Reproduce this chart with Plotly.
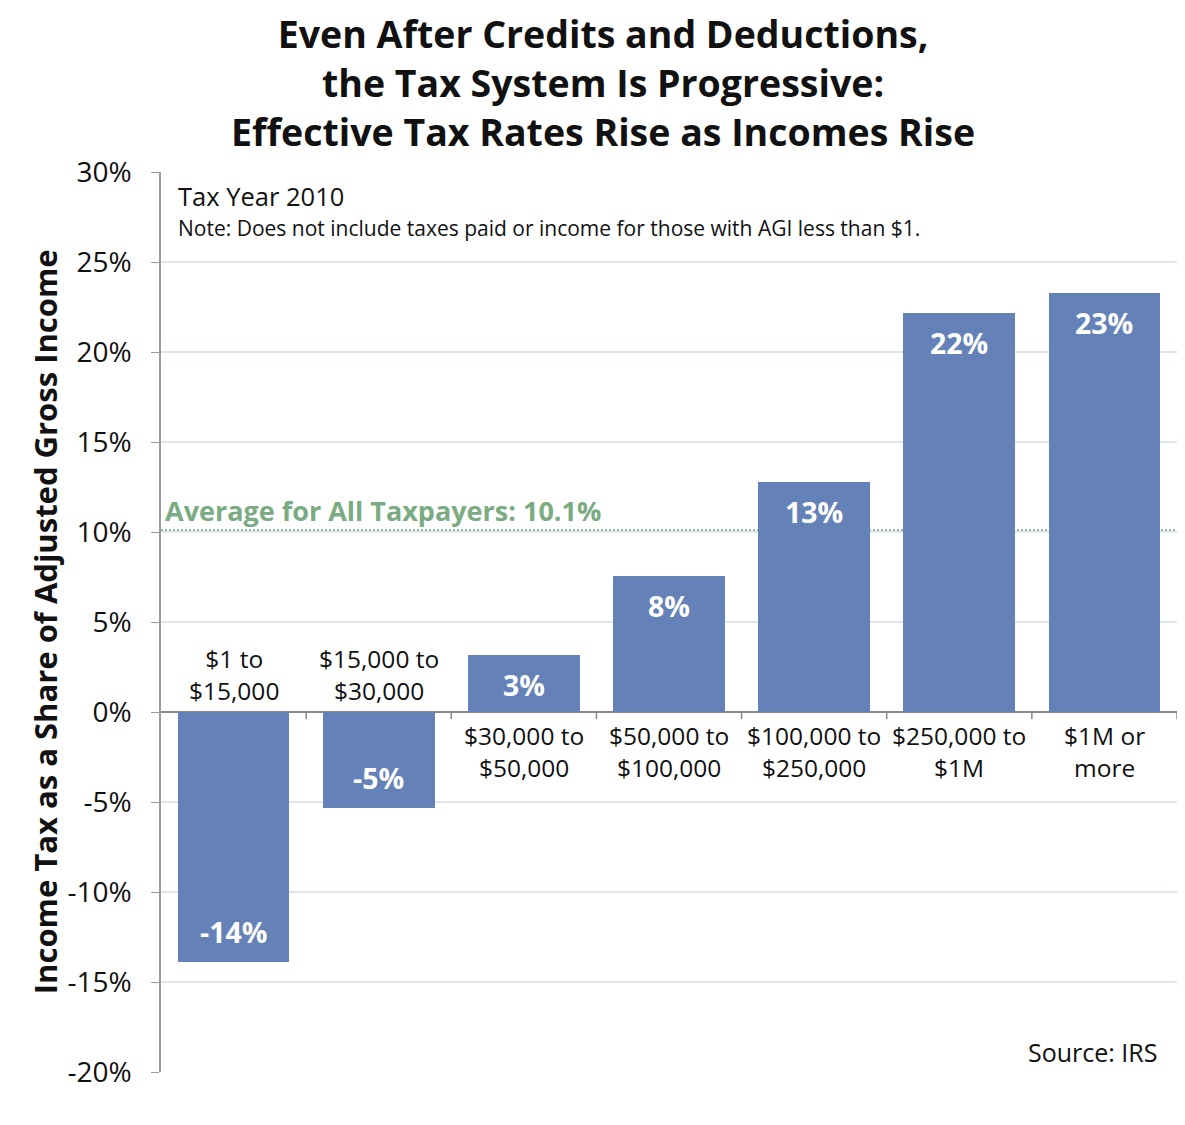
import plotly.graph_objects as go

categories = ["$1 to<br>$15,000", "$15,000 to<br>$30,000", "$30,000 to<br>$50,000",
              "$50,000 to<br>$100,000", "$100,000 to<br>$250,000", "$250,000 to<br>$1M",
              "$1M or<br>more"]
rates = [-13.9, -5.35, 3.15, 7.55, 12.8, 22.15, 23.3]
bar_labels = ["-14%", "-5%", "3%", "8%", "13%", "22%", "23%"]
average = 10.1
y_ticks = [30, 25, 20, 15, 10, 5, 0, -5, -10, -15, -20]
title_lines = ["Even After Credits and Deductions,",
               "the Tax System Is Progressive:",
               "Effective Tax Rates Rise as Incomes Rise"]

FONT = "Open Sans"
BAR = "#6582b8"
GREEN = "#7aab82"
INK = "#111111"
xs = list(range(len(categories)))

fig = go.Figure()
fig.add_trace(go.Bar(x=xs, y=rates, width=0.77,
                     marker=dict(color=BAR, line=dict(width=0))))

# value labels inside bar ends
for i, (v, t) in enumerate(zip(rates, bar_labels)):
    fig.add_annotation(x=i, y=v, xref="x", yref="y", text=f"<b>{t}</b>", showarrow=False,
                       yanchor="middle", yshift=-30 if v > 0 else 30,
                       font=dict(family=FONT, size=28.5, color="white"))

# category labels on the opposite side of the zero line
for i, (c, v) in enumerate(zip(categories, rates)):
    fig.add_annotation(x=i, y=0, xref="x", yref="y", text=c, showarrow=False,
                       yanchor="bottom" if v < 0 else "top",
                       yshift=3 if v < 0 else -5,
                       font=dict(family=FONT, size=24.5, color=INK),
                       align="center")

# zero-line ticks at category boundaries
for b in [i + 0.5 for i in xs]:
    fig.add_shape(type="line", x0=b, x1=b, y0=0, y1=-0.4, xref="x", yref="y",
                  line=dict(color="#8a8a8a", width=1.5))

# average line
fig.add_shape(type="line", x0=-0.5, x1=len(xs) - 0.5, y0=average, y1=average,
              xref="x", yref="y", layer="below",
              line=dict(color=GREEN, width=2, dash="2px,2px"))
fig.add_annotation(x=-0.5, y=average, xref="x", yref="y", xanchor="left", yanchor="middle",
                   xshift=2, yshift=20, showarrow=False,
                   text="<b>Average for All Taxpayers: 10.1%</b>",
                   font=dict(family=FONT, size=27, color=GREEN))

fig.add_annotation(x=0.0148, y=0.9733, xref="paper", yref="paper", xanchor="left", yanchor="middle",
                   showarrow=False, text="Tax Year 2010",
                   font=dict(family=FONT, size=25.5, color=INK))
fig.add_annotation(x=0.0148, y=0.9378, xref="paper", yref="paper", xanchor="left", yanchor="middle",
                   showarrow=False,
                   text="Note: Does not include taxes paid or income for those with AGI less than $1.",
                   font=dict(family=FONT, size=21, color=INK))
fig.add_annotation(x=0.9833, y=0.0222, xref="paper", yref="paper", xanchor="right", yanchor="middle",
                   showarrow=False, text="Source: IRS",
                   font=dict(family=FONT, size=25, color=INK))

# title (single multi-line text block)
fig.add_annotation(x=0.435, y=1.1845, xref="paper", yref="paper", xanchor="center",
                   yanchor="top", showarrow=False, align="center",
                   text="<br>".join(f"<b>{l}</b>" for l in title_lines),
                   font=dict(family=FONT, size=37.5, color=INK))

# y-axis title
fig.add_annotation(x=-0.114, y=0.5, xref="paper", yref="paper", xanchor="center",
                   yanchor="middle", showarrow=False, textangle=-90,
                   text="<b>Income Tax as a Share of Adjusted Gross Income</b>",
                   font=dict(family=FONT, size=31, color=INK))

fig.update_layout(
    width=1177, height=1117,
    margin=dict(l=153, r=8, t=164, b=53, autoexpand=False),
    paper_bgcolor="white", plot_bgcolor="white",
    showlegend=False, bargap=0,
    xaxis=dict(range=[-0.5, len(xs) - 0.5], showticklabels=False, showgrid=False,
               zeroline=False, showline=False, ticks=""),
    yaxis=dict(range=[-20, 30], tickvals=y_ticks,
               ticktext=[f"{t}%" for t in y_ticks],
               showgrid=True, gridcolor="#dfe4f1", gridwidth=1.5,
               zeroline=True, zerolinecolor="#8a8a8a", zerolinewidth=1.5,
               showline=True, linecolor="#9a9a9a", linewidth=1.5,
               ticks="outside", ticklen=8, tickcolor="#9a9a9a", ticklabelstandoff=14,
               tickfont=dict(family=FONT, size=28, color=INK), automargin=False),
)

fig.write_html("out.html")
